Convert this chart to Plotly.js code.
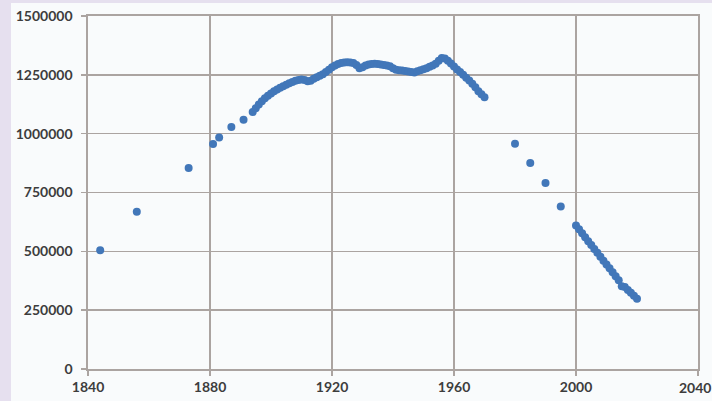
<!DOCTYPE html>
<html>
<head>
<meta charset="utf-8">
<script src="https://cdn.plot.ly/plotly-3.0.1.min.js"></script>
<style>
  html, body { margin: 0; padding: 0; background: #e6e0ef; width: 712px; height: 401px; overflow: hidden; }
  #chart { position: absolute; left: 11px; top: 3px; width: 701px; height: 398px; }
</style>
</head>
<body>
<div id="chart"></div>
<script>
// Census points (sparse early years)
const yearsEarly = [1844, 1856, 1873, 1881, 1883, 1887, 1891];
const valuesEarly = [505000, 668000, 854000, 956000, 984000, 1028000, 1059000];

// Annual estimates 1894-1970
const yearsMid = [1894,1895,1896,1897,1898,1899,1900,1901,1902,1903,1904,1905,1906,1907,1908,1909,
  1910,1911,1912,1913,1914,1915,1916,1917,1918,1919,1920,1921,1922,1923,1924,1925,1926,1927,1928,1929,
  1930,1931,1932,1933,1934,1935,1936,1937,1938,1939,1940,1941,1942,1943,1944,1945,1946,1947,1948,1949,
  1950,1951,1952,1953,1954,1955,1956,1957,1958,1959,1960,1961,1962,1963,1964,1965,1966,1967,1968,1969,1970];
const valuesMid = [1092000,1108000,1124000,1138000,1150000,1161000,1171000,1180000,1188000,1195000,1202000,
  1208000,1214000,1220000,1225000,1228000,1230000,1228000,1223000,1225000,1233000,1240000,1246000,1252000,
  1262000,1272000,1282000,1290000,1296000,1300000,1302000,1303000,1302000,1300000,1292000,1278000,1282000,
  1290000,1294000,1296000,1297000,1296000,1294000,1292000,1290000,1286000,1278000,1272000,1270000,1268000,
  1266000,1264000,1262000,1260000,1265000,1270000,1274000,1278000,1284000,1290000,1297000,1310000,1322000,
  1319000,1310000,1298000,1285000,1273000,1262000,1250000,1238000,1226000,1212000,1197000,1180000,1167000,1155000];

// Sparse points 1980-1995
const yearsLate = [1980, 1985, 1990, 1995];
const valuesLate = [957000, 875000, 790000, 690000];

// Annual estimates 2000-2020
const yearsRecent = [2000,2001,2002,2003,2004,2005,2006,2007,2008,2009,2010,2011,2012,2013,2014,2015,2016,2017,2018,2019,2020];
const valuesRecent = [610000,594000,577000,560000,543000,527000,510000,494000,477000,460000,444000,428000,
  411000,394000,377000,352000,348000,336000,324000,311000,299000];

const xTicks = [1840, 1880, 1920, 1960, 2000, 2040];
const xTickText = ['1840', '1880', '1920', '1960', '2000', '2040'];
const yTicks = [0, 250000, 500000, 750000, 1000000, 1250000, 1500000];

const xs = [].concat(yearsEarly, yearsMid, yearsLate, yearsRecent);
const ys = [].concat(valuesEarly, valuesMid, valuesLate, valuesRecent);

const gridColor = '#aba4a1';
const fontSpec = { family: 'Lato, "Open Sans", sans-serif', size: 14, color: '#3d3d3d', weight: 'bold' };

const trace = {
  type: 'scatter',
  mode: 'markers',
  x: xs,
  y: ys,
  marker: { color: '#4277b9', size: 8 },
  hoverinfo: 'x+y'
};

const axisCommon = {
  showgrid: true,
  gridcolor: gridColor,
  gridwidth: 1.6,
  showline: true,
  mirror: true,
  linecolor: gridColor,
  linewidth: 1.6,
  zeroline: false,
  ticks: 'outside',
  ticklen: 5,
  tickwidth: 1.6,
  tickcolor: gridColor,
  tickfont: fontSpec,
  tickformat: 'd',
  fixedrange: true
};

// last x label is drawn as an annotation so it stays inside the picture
const lastIdx = xTicks.length - 1;

const layout = {
  width: 701,
  height: 398,
  margin: { l: 77, r: 14, t: 13, b: 32, pad: 0 },
  paper_bgcolor: '#f9fbfc',
  plot_bgcolor: '#f9fbfc',
  showlegend: false,
  xaxis: Object.assign({}, axisCommon, {
    range: [1840, 2040],
    tickmode: 'array',
    tickvals: xTicks,
    ticktext: xTickText.map((t, i) => i === lastIdx ? '' : t),
    ticklabelstandoff: 0
  }),
  yaxis: Object.assign({}, axisCommon, {
    range: [0, 1500000],
    tickmode: 'array',
    tickvals: yTicks,
    ticktext: yTicks.map(String),
    ticklabelstandoff: 6
  }),
  annotations: [{
    x: xTicks[lastIdx],
    xref: 'x',
    y: 0,
    yref: 'paper',
    text: xTickText[lastIdx],
    showarrow: false,
    xanchor: 'right',
    xshift: 15,
    yanchor: 'top',
    yshift: -8,
    font: fontSpec
  }]
};

Plotly.newPlot('chart', [trace], layout, { displayModeBar: false, staticPlot: true });
</script>
</body>
</html>
